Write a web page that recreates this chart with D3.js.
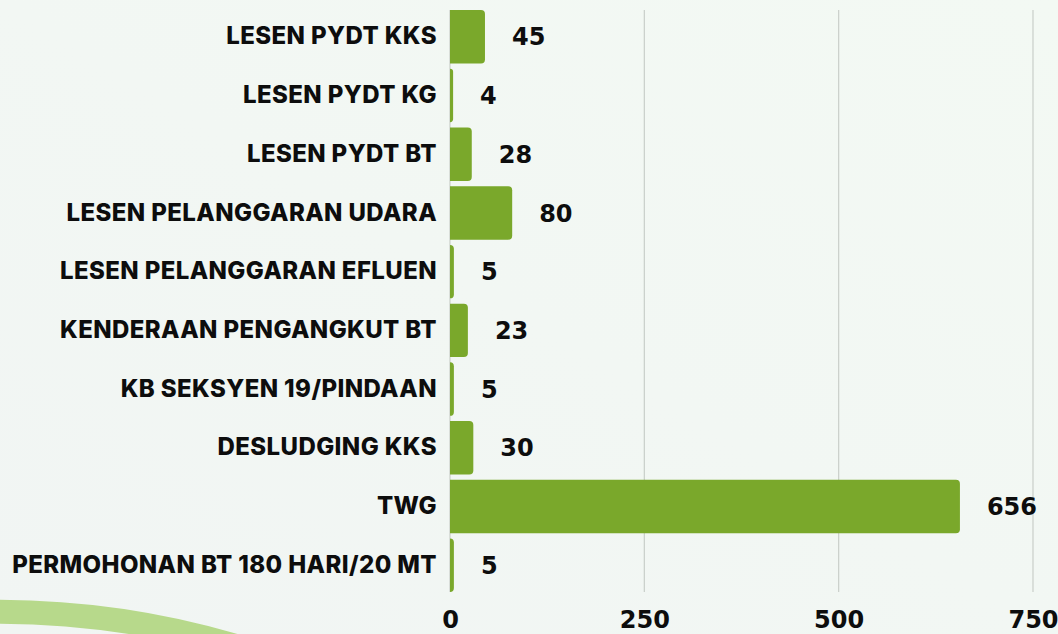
<!DOCTYPE html>
<html>
<head>
<meta charset="utf-8">
<script src="https://cdn.jsdelivr.net/npm/d3@7"></script>
<style>
  html, body { margin: 0; padding: 0; background: #f2f6f3; }
  svg { display: block; }
</style>
</head>
<body>
<svg id="chart" width="1058" height="634"></svg>
<script>
/**
 * Data.
 */
const categories = [
    'LESEN PYDT KKS',
    'LESEN PYDT KG',
    'LESEN PYDT BT',
    'LESEN PELANGGARAN UDARA',
    'LESEN PELANGGARAN EFLUEN',
    'KENDERAAN PENGANGKUT BT',
    'KB SEKSYEN 19/PINDAAN',
    'DESLUDGING KKS',
    'TWG',
    'PERMOHONAN BT 180 HARI/20 MT'
];
const values = [45, 4, 28, 80, 5, 23, 5, 30, 656, 5];
const xTicks = [0, 250, 500, 750];

/**
 * Visual configs.
 */
const visWidth = 1058, visHeight = 634;
const barColor = '#7aa82b',
    gridColor = '#c9cec9',
    textColor = '#0d0d0d';
const numFont = 'bold 24px "DejaVu Sans", sans-serif';

const svg = d3.select('#chart');

// Background with a faint diagonal gradient
const defs = svg.append('defs');
const grad = defs.append('linearGradient')
    .attr('id', 'bg')
    .attr('x1', '100%').attr('y1', '0%')
    .attr('x2', '0%').attr('y2', '100%');
grad.append('stop').attr('offset', '0%').attr('stop-color', '#f3f9f3');
grad.append('stop').attr('offset', '100%').attr('stop-color', '#f1f5f3');
svg.append('rect')
    .attr('width', visWidth).attr('height', visHeight)
    .attr('fill', 'url(#bg)');

// Decorative green arc in the bottom-left corner
svg.append('path')
    .attr('d', 'M -30 612 Q 120 608 255 652')
    .attr('fill', 'none')
    .attr('stroke', '#b7d98b')
    .attr('stroke-width', 24);

/**
 * Scales.
 */
const xScale = d3.scaleLinear().domain([0, 750]).range([450, 1033]);
const yScale = d3.scaleBand()
    .domain(categories)
    .range([7.4, 594.6])
    .paddingInner(0.09)
    .paddingOuter(0.045);

const plotTop = 10, plotBottom = 592;

// Grid lines
svg.append('g').attr('class', 'grid')
    .selectAll('line')
    .data(xTicks)
    .join('line')
        .attr('x1', d => xScale(d)).attr('x2', d => xScale(d))
        .attr('y1', plotTop).attr('y2', plotBottom)
        .attr('stroke', gridColor)
        .attr('stroke-width', 1.2);

// Bars with rounded right corners
function barPath(d, i) {
    const x0 = xScale(0), x1 = xScale(d);
    const y0 = yScale(categories[i]), h = yScale.bandwidth();
    const w = x1 - x0;
    const r = Math.min(4, w, h / 2);
    return `M${x0},${y0}H${x1 - r}Q${x1},${y0} ${x1},${y0 + r}` +
        `V${y0 + h - r}Q${x1},${y0 + h} ${x1 - r},${y0 + h}H${x0}Z`;
}
svg.append('g').attr('class', 'bars')
    .selectAll('path')
    .data(values)
    .join('path')
        .attr('d', barPath)
        .attr('fill', barColor);

// Value labels
svg.append('g').attr('class', 'values')
    .selectAll('text')
    .data(values)
    .join('text')
        .attr('x', d => xScale(d) + 27)
        .attr('y', (d, i) => yScale(categories[i]) + yScale.bandwidth() / 2)
        .attr('dy', '0.36em')
        .attr('fill', textColor)
        .style('font', numFont)
        .text(d => d);

// Category axis
const yAxis = d3.axisLeft(yScale).tickSize(0).tickPadding(13);
const yAxisG = svg.append('g')
    .attr('transform', `translate(${xScale(0)},0)`)
    .call(yAxis);
yAxisG.select('.domain').remove();
yAxisG.selectAll('text')
    .attr('fill', textColor)
    .style('font', '800 24px Inter, sans-serif')
    .style('letter-spacing', '0.4px');

// Value axis
const xAxis = d3.axisBottom(xScale).tickValues(xTicks).tickSize(0).tickPadding(9);
const xAxisG = svg.append('g')
    .attr('transform', `translate(0,${602})`)
    .call(xAxis);
xAxisG.select('.domain').remove();
xAxisG.selectAll('text')
    .attr('fill', textColor)
    .style('font', numFont);
</script>
</body>
</html>
